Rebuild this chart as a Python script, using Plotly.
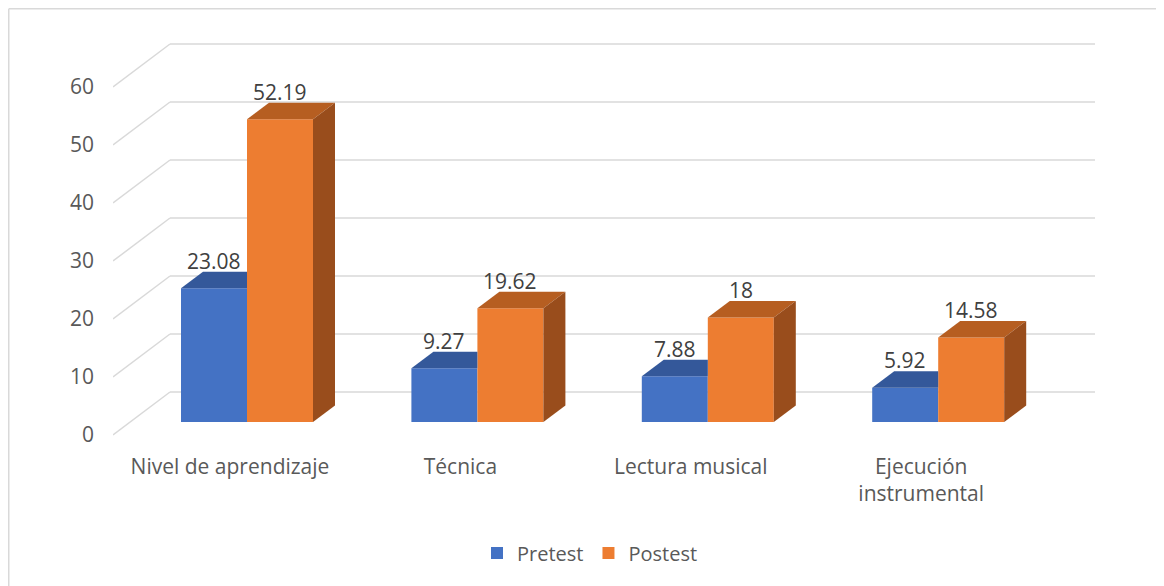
import plotly.graph_objects as go

# ---- data ----
categories = ["Nivel de aprendizaje", "Técnica", "Lectura musical", "Ejecución<br>instrumental"]
pretest = [23.08, 9.27, 7.88, 5.92]
postest = [52.19, 19.62, 18, 14.58]
y_ticks = [0, 10, 20, 30, 40, 50, 60]

# ---- style / geometry constants (page body adds an 8px offset) ----
OFF = 8
W, H = 1164 - OFF, 586 - OFF
PLOT_L, PLOT_R, PLOT_T, PLOT_B = 113 - OFF, 1095 - OFF, 40 - OFF, 440 - OFF
ML, MR, MT, MB = PLOT_L, W - PLOT_R, PLOT_T, H - PLOT_B
PX_PER_X = 230.4          # pixels per category
PX_PER_V = 5.8            # pixels per value unit
BAR_W = 66 / PX_PER_X
DEPTH_X = 22 / PX_PER_X   # bar depth offset (x units)
DEPTH_V = 16.5 / PX_PER_V # bar depth offset (value units)
CENTER0 = 247 - OFF       # pixel of first category centre
WALL_X_FRONT = (PLOT_L - CENTER0) / PX_PER_X
WALL_X_BACK = (170 - OFF - CENTER0) / PX_PER_X
WALL_X_END = (PLOT_R - CENTER0) / PX_PER_X
WALL_V = 43 / PX_PER_V    # back wall offset in label-axis units
LABEL_SHIFT = 17 / PX_PER_X
BAR_ZERO_PX = 422 - OFF
LABEL_ZERO_PX = 435 - OFF

BLUE, BLUE_TOP = "#4472C4", "#34589A"
ORANGE, ORANGE_TOP, ORANGE_SIDE = "#ED7D31", "#B65E21", "#994D1C"
GRID = "#D9D9D9"
FONT = "Open Sans"
FS = 21

xs = list(range(len(categories)))
plot_h = PLOT_B - PLOT_T
y_main_lo = -(PLOT_B - BAR_ZERO_PX) / PX_PER_V
y_main_hi = (BAR_ZERO_PX - PLOT_T) / PX_PER_V
y_lab_lo = -(PLOT_B - LABEL_ZERO_PX) / PX_PER_V
y_lab_hi = (LABEL_ZERO_PX - PLOT_T) / PX_PER_V

fig = go.Figure()
fig.add_trace(go.Bar(name="Pretest", x=xs, y=pretest, width=BAR_W, offset=-BAR_W,
                     marker=dict(color=BLUE, line=dict(width=0)), hoverinfo="y"))
fig.add_trace(go.Bar(name="Postest", x=xs, y=postest, width=BAR_W, offset=0,
                     marker=dict(color=ORANGE, line=dict(width=0)), hoverinfo="y"))

def poly(px, py, color):
    fig.add_trace(go.Scatter(x=px + [px[0]], y=py + [py[0]], fill="toself", mode="lines",
                             fillcolor=color, line=dict(width=0, color=color),
                             hoverinfo="skip", showlegend=False))

for i, (a, b) in enumerate(zip(pretest, postest)):
    # pretest top (clipped by the postest front face)
    x0, x1 = i - BAR_W, i
    poly([x0, x1, x1, x0 + DEPTH_X], [a, a, a + DEPTH_V, a + DEPTH_V], BLUE_TOP)
    # postest top and side
    x0, x1 = i, i + BAR_W
    poly([x0, x1, x1 + DEPTH_X, x0 + DEPTH_X], [b, b, b + DEPTH_V, b + DEPTH_V], ORANGE_TOP)
    poly([x1, x1, x1 + DEPTH_X, x1 + DEPTH_X], [0, b, b + DEPTH_V, DEPTH_V], ORANGE_SIDE)

annotations = []
for i, (a, b) in enumerate(zip(pretest, postest)):
    for val, off in ((a, -BAR_W / 2), (b, BAR_W / 2)):
        annotations.append(dict(x=i + off, y=val + DEPTH_V, xref="x", yref="y",
                                text=f"{val:g}", showarrow=False, yanchor="bottom",
                                yshift=-5, font=dict(family=FONT, size=FS, color="#404040")))

shapes = []
for k in y_ticks:
    shapes.append(dict(type="line", xref="x", yref="y2", x0=WALL_X_FRONT, y0=k,
                       x1=WALL_X_BACK, y1=k + WALL_V, layer="below",
                       line=dict(color=GRID, width=1.5)))
    shapes.append(dict(type="line", xref="x", yref="y2", x0=WALL_X_BACK, y0=k + WALL_V,
                       x1=WALL_X_END, y1=k + WALL_V, layer="below",
                       line=dict(color=GRID, width=1.5)))
# chart frame (top and left edges)
plot_w = PLOT_R - PLOT_L
fx = (0.75 - ML) / plot_w
fy = (PLOT_B - 0.75) / plot_h
fb = (PLOT_B - H) / plot_h
fr = (W - ML) / plot_w
shapes.append(dict(type="line", xref="paper", yref="paper", x0=fx, y0=fy, x1=fr, y1=fy,
                   line=dict(color=GRID, width=1.5)))
shapes.append(dict(type="line", xref="paper", yref="paper", x0=fx, y0=fy, x1=fx, y1=fb,
                   line=dict(color=GRID, width=1.5)))

fig.update_layout(
    width=W, height=H,
    margin=dict(l=ML, r=MR, t=MT, b=MB),
    paper_bgcolor="white", plot_bgcolor="white",
    barmode="overlay",
    font=dict(family=FONT, size=FS, color="#595959"),
    xaxis=dict(range=[WALL_X_FRONT, WALL_X_END], tickvals=[x - LABEL_SHIFT for x in xs],
               ticktext=categories, showgrid=False, zeroline=False, showline=False,
               ticks="", ticklabelstandoff=12, fixedrange=True,
               tickfont=dict(family=FONT, size=FS, color="#595959")),
    yaxis=dict(range=[y_main_lo, y_main_hi], visible=False, fixedrange=True),
    yaxis2=dict(range=[y_lab_lo, y_lab_hi], overlaying="y", side="left",
                tickvals=y_ticks, showgrid=False, zeroline=False, showline=False,
                ticks="", ticklabelstandoff=18, fixedrange=True,
                tickfont=dict(family=FONT, size=FS, color="#595959")),
    legend=dict(orientation="h", xref="container", yref="container",
                x=(590 - OFF) / W, y=1 - (553 - OFF) / H, xanchor="center", yanchor="middle",
                font=dict(family=FONT, size=20, color="#595959"), traceorder="normal"),
    annotations=annotations, shapes=shapes,
    showlegend=True,
)
# invisible trace so the label axis is drawn
fig.add_trace(go.Scatter(x=[xs[0]], y=[y_ticks[0]], yaxis="y2", mode="markers",
                         marker=dict(opacity=0), hoverinfo="skip", showlegend=False))

fig.write_html("out.html")
